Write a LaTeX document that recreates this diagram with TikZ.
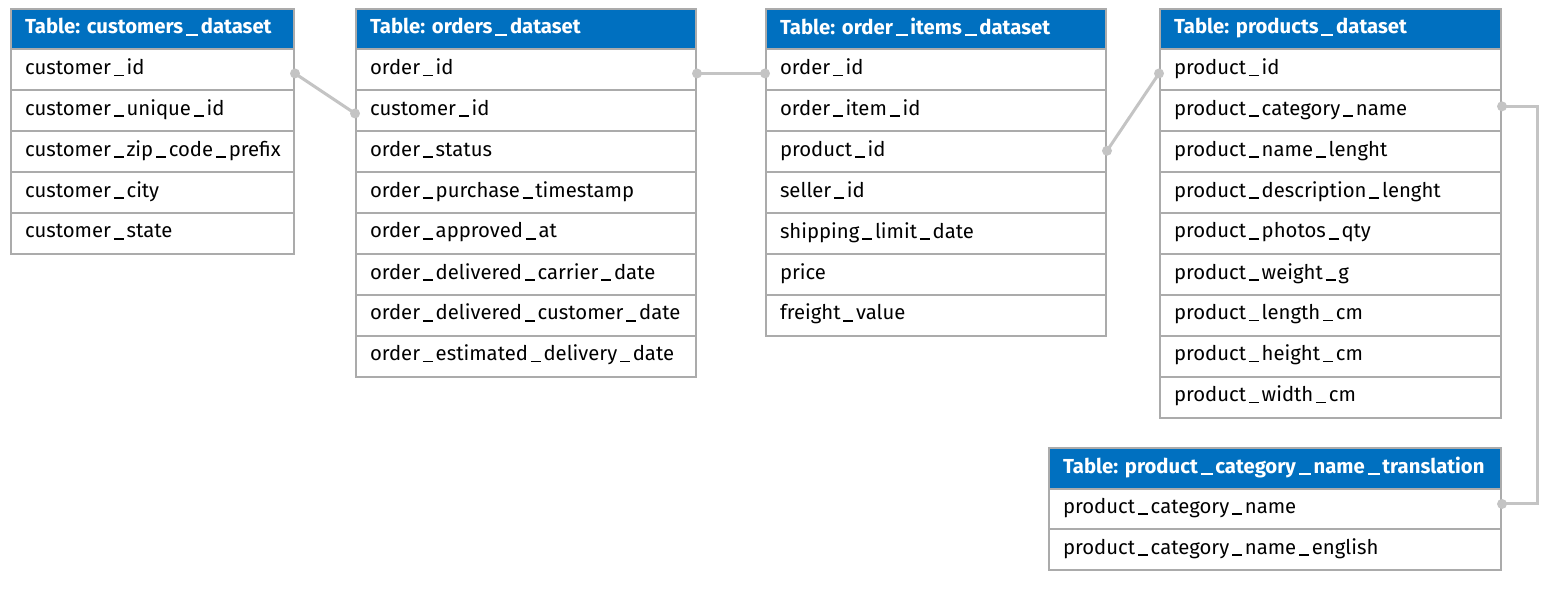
\documentclass[tikz,border=0pt]{standalone}
\usepackage{fontspec}
\setmainfont{Fira Sans}
\usetikzlibrary{calc}
\frenchspacing
\definecolor{hdrblue}{HTML}{0070C0}
\definecolor{bordergray}{HTML}{ABABAB}
\definecolor{conngray}{HTML}{C4C4C4}
\newcommand\us{\kern2.8pt\rule[-1.6pt]{10pt}{1.6pt}\kern2.8pt}
\newcommand\ub{\kern2.8pt\rule[-2.2pt]{12pt}{2.3pt}\kern2.8pt}
\tikzset{
  hdr/.style={draw=bordergray, line width=2pt, fill=hdrblue, text=white,
    font=\fontsize{20.3}{22}\selectfont\bfseries, minimum height=40.5pt,
    inner xsep=14pt, inner ysep=0pt, anchor=north west, align=left},
  rowcell/.style={draw=bordergray, line width=2pt, fill=white, text=black,
    font=\fontsize{20.3}{22}\selectfont, minimum height=40.9pt,
    inner xsep=14pt, inner ysep=0pt, anchor=north west, align=left},
  conn/.style={draw=conngray, line width=3pt},
  dot/.style={fill=conngray}
}
\newcommand\erdtable[6]{%
  \pgfmathsetmacro\tw{#3-28}%
  \node[hdr, text width=\tw pt] (#1-h) at (#2,#4) {\strut #5};
  \foreach \r [count=\i] in {#6} {
    \pgfmathsetmacro\ry{#4+40.5+40.9*\i-40.9}
    \node[rowcell, text width=\tw pt] (#1-\i) at (#2,\ry) {\strut\r};
  }
}
\begin{document}
\begin{tikzpicture}[x=1pt,y=-1pt]
\useasboundingbox (0,0) rectangle (1563,594);
\erdtable{cu}{10}{283}{8}{Table: customers\ub dataset}{customer\us id,customer\us unique\us id,customer\us zip\us code\us prefix,customer\us city,customer\us state}
\erdtable{or}{355}{340}{8}{Table: orders\ub dataset}{order\us id,customer\us id,order\us status,order\us purchase\us timestamp,order\us approved\us at,order\us delivered\us carrier\us date,order\us delivered\us customer\us date,order\us estimated\us delivery\us date}
\erdtable{oi}{765}{340}{8}{Table: order\ub items\ub dataset}{order\us id,order\us item\us id,product\us id,seller\us id,shipping\us limit\us date,price,freight\us value}
\erdtable{pr}{1159}{341}{8}{Table: products\ub dataset}{product\us id,product\us category\us name,product\us name\us lenght,product\us description\us lenght,product\us photos\us qty,product\us weight\us g,product\us length\us cm,product\us height\us cm,product\us width\us cm}
\erdtable{tr}{1048}{452}{447}{Table: product\ub category\ub name\ub translation}{product\us category\us name,product\us category\us name\us english}

\coordinate (a1) at ($(cu-1.east)+(0,3.5)$);
\coordinate (a2) at ($(or-2.west)+(0,2.6)$);
\coordinate (b1) at ($(or-1.east)+(0,3.5)$);
\coordinate (b2) at ($(oi-1.west)+(0,3.5)$);
\coordinate (c1) at ($(oi-3.east)+(0,-1)$);
\coordinate (c2) at ($(pr-1.west)+(0,3.5)$);
\coordinate (d1) at ($(pr-2.east)+(0,-4.5)$);
\coordinate (d2) at ($(tr-1.east)+(0,-5)$);

\draw[conn] (a1) -- (a2);
\draw[conn] (b1) -- (b2);
\draw[conn] (c1) -- (c2);
\draw[conn] (d1) -- ++(35,0) |- (d2);
\foreach \p in {a1,a2,b1,b2,c1,c2,d1,d2} { \fill[dot] (\p) circle (5pt); }
\end{tikzpicture}
\end{document}
